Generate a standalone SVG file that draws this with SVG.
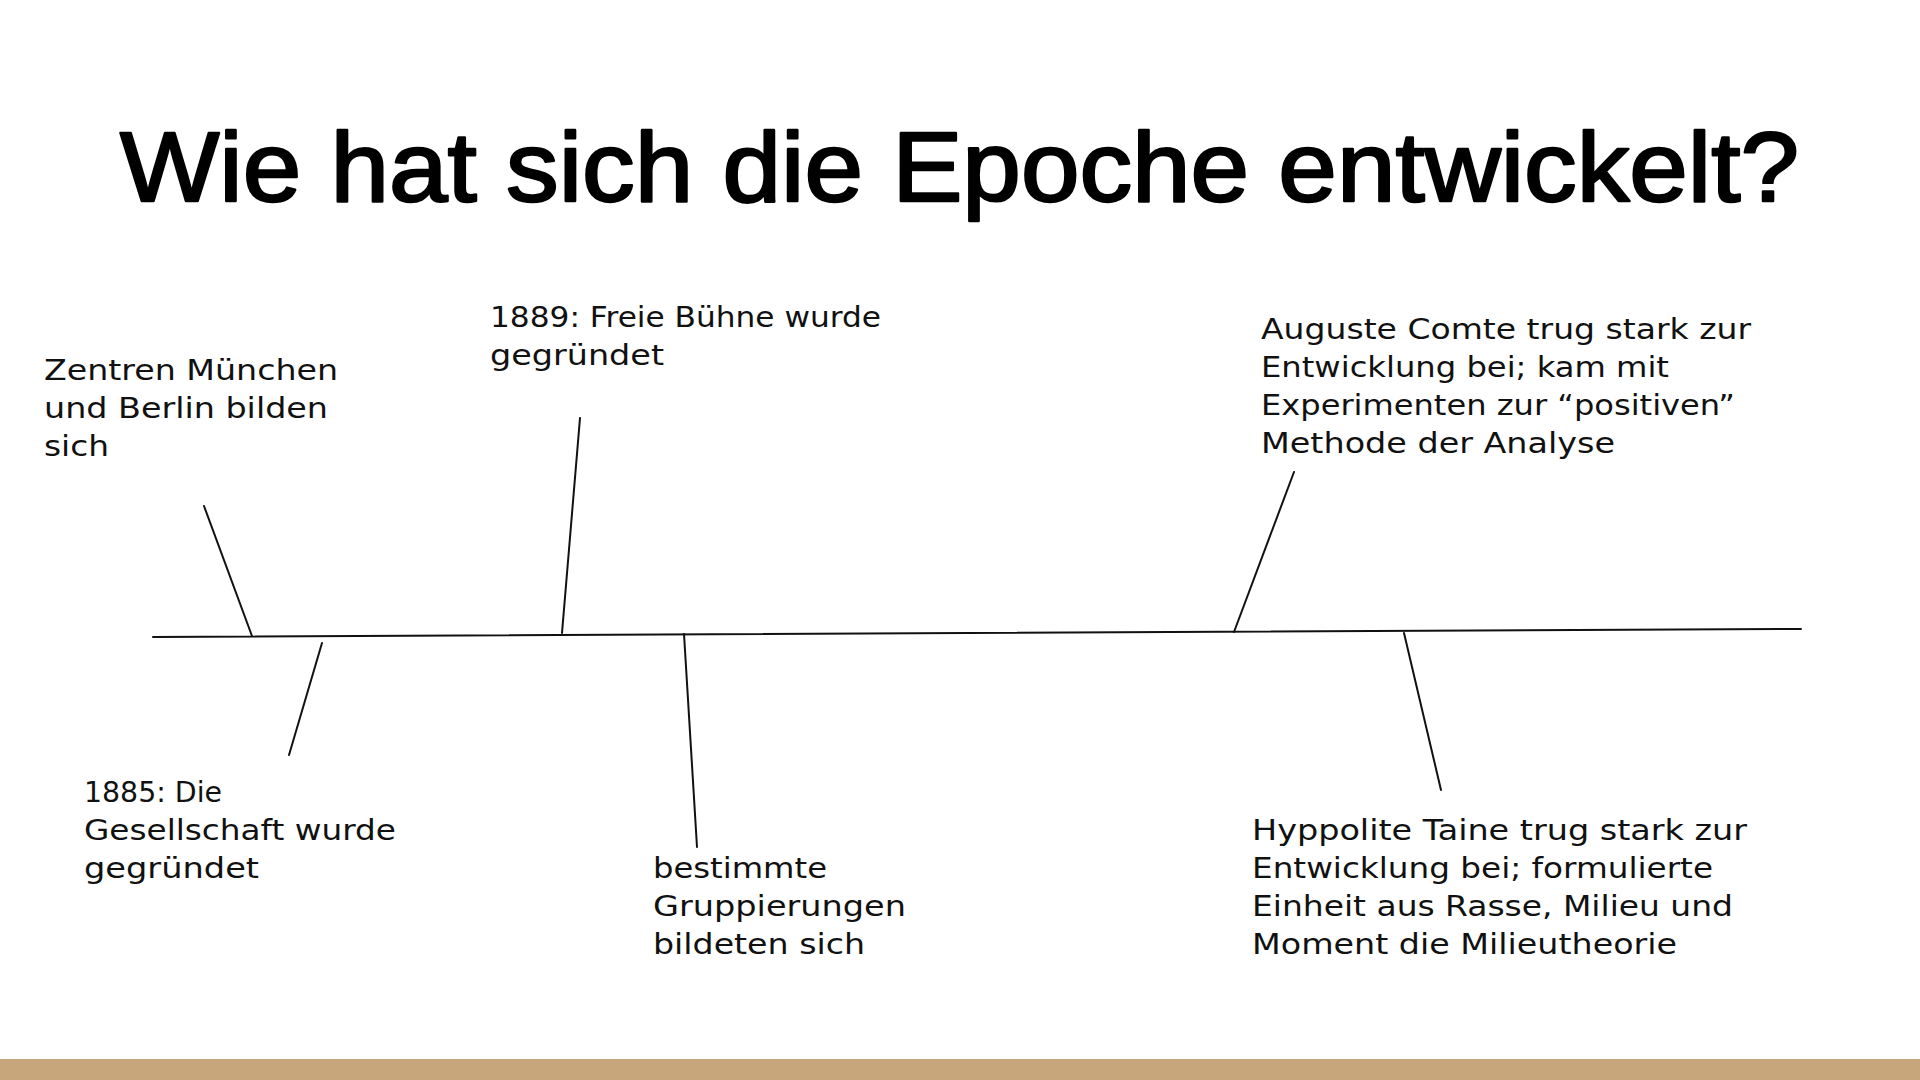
<svg xmlns="http://www.w3.org/2000/svg" width="1920" height="1080" viewBox="0 0 1920 1080">
  <style>
    .title { font-family: "Liberation Sans", "DejaVu Sans", sans-serif; font-weight: normal; font-size: 99px; fill: #000; stroke: #000; stroke-width: 2.4; stroke-linejoin: round; }
    .lbl { font-family: "DejaVu Sans", "Liberation Sans", sans-serif; font-size: 29px; fill: #111; }
    .ln { stroke: #111; stroke-width: 2; fill: none; stroke-linecap: round; }
  </style>
  <rect x="0" y="0" width="1920" height="1080" fill="#ffffff"/>
  <rect x="0" y="1059" width="1920" height="21" fill="#c8a67b"/>

  <g id="title">
    <text class="title" x="120" y="201" textLength="1679" lengthAdjust="spacingAndGlyphs">Wie hat sich die Epoche entwickelt?</text>
  </g>

  <g id="connectors">
    <line class="ln" x1="153" y1="637" x2="1801" y2="629"/>
    <line class="ln" x1="204" y1="506" x2="252" y2="636"/>
    <line class="ln" x1="580" y1="418" x2="562" y2="633"/>
    <line class="ln" x1="1294" y1="472" x2="1234" y2="632"/>
    <line class="ln" x1="322" y1="643" x2="289" y2="755"/>
    <line class="ln" x1="684" y1="634" x2="697" y2="847"/>
    <line class="ln" x1="1404" y1="633" x2="1441" y2="790"/>
  </g>

  <g id="node-zentren">
    <text class="lbl" x="44" y="380" textLength="294" lengthAdjust="spacingAndGlyphs">Zentren München</text>
    <text class="lbl" x="44" y="418" textLength="284" lengthAdjust="spacingAndGlyphs">und Berlin bilden</text>
    <text class="lbl" x="44" y="456" textLength="65" lengthAdjust="spacingAndGlyphs">sich</text>
  </g>

  <g id="node-1889">
    <text class="lbl" x="490" y="327" textLength="391" lengthAdjust="spacingAndGlyphs">1889: Freie Bühne wurde</text>
    <text class="lbl" x="490" y="365" textLength="174" lengthAdjust="spacingAndGlyphs">gegründet</text>
  </g>

  <g id="node-comte">
    <text class="lbl" x="1261" y="339" textLength="490" lengthAdjust="spacingAndGlyphs">Auguste Comte trug stark zur</text>
    <text class="lbl" x="1261" y="377" textLength="408" lengthAdjust="spacingAndGlyphs">Entwicklung bei; kam mit</text>
    <text class="lbl" x="1261" y="415" textLength="474" lengthAdjust="spacingAndGlyphs">Experimenten zur “positiven”</text>
    <text class="lbl" x="1261" y="453" textLength="354" lengthAdjust="spacingAndGlyphs">Methode der Analyse</text>
  </g>

  <g id="node-1885">
    <text class="lbl" x="84" y="802" textLength="138" lengthAdjust="spacingAndGlyphs">1885: Die</text>
    <text class="lbl" x="84" y="840" textLength="312" lengthAdjust="spacingAndGlyphs">Gesellschaft wurde</text>
    <text class="lbl" x="84" y="878" textLength="175" lengthAdjust="spacingAndGlyphs">gegründet</text>
  </g>

  <g id="node-gruppierungen">
    <text class="lbl" x="653" y="878" textLength="174" lengthAdjust="spacingAndGlyphs">bestimmte</text>
    <text class="lbl" x="653" y="916" textLength="253" lengthAdjust="spacingAndGlyphs">Gruppierungen</text>
    <text class="lbl" x="653" y="954" textLength="212" lengthAdjust="spacingAndGlyphs">bildeten sich</text>
  </g>

  <g id="node-taine">
    <text class="lbl" x="1252" y="840" textLength="495" lengthAdjust="spacingAndGlyphs">Hyppolite Taine trug stark zur</text>
    <text class="lbl" x="1252" y="878" textLength="461" lengthAdjust="spacingAndGlyphs">Entwicklung bei; formulierte</text>
    <text class="lbl" x="1252" y="916" textLength="481" lengthAdjust="spacingAndGlyphs">Einheit aus Rasse, Milieu und</text>
    <text class="lbl" x="1252" y="954" textLength="425" lengthAdjust="spacingAndGlyphs">Moment die Milieutheorie</text>
  </g>
</svg>
